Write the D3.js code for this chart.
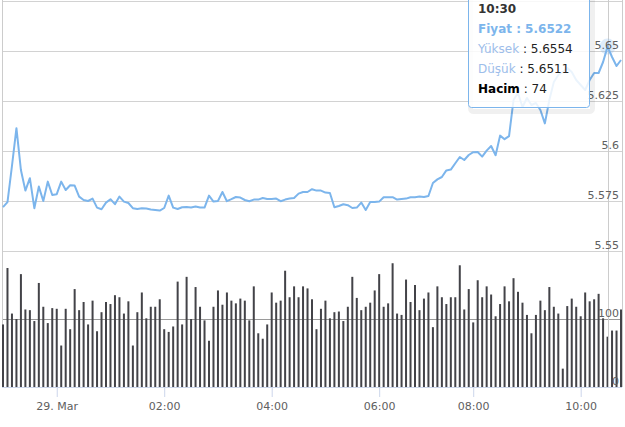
<!DOCTYPE html>
<html>
<head>
<meta charset="utf-8">
<script src="https://cdnjs.cloudflare.com/ajax/libs/d3/7.8.5/d3.min.js"></script>
<style>
  body { margin: 0; background: #fff; }
  svg { display: block; font-family: "DejaVu Sans", Verdana, sans-serif; }
</style>
</head>
<body>
<svg id="chart" width="625" height="427"></svg>
<script>
// ---- data ----
const price = [
  5.5719, 5.5744, 5.5925, 5.6114, 5.5905, 5.5802, 5.5864, 5.5714, 5.5822, 5.5750,
  5.5847, 5.5780, 5.5784, 5.5847, 5.5805, 5.5829, 5.5827, 5.5772, 5.5755, 5.5750,
  5.5762, 5.5717, 5.5709, 5.5742, 5.5759, 5.5734, 5.5772, 5.5747, 5.5740, 5.5714,
  5.5710, 5.5714, 5.5712, 5.5707, 5.5705, 5.5702, 5.5715, 5.5777, 5.5717, 5.5710,
  5.5719, 5.5720, 5.5717, 5.5722, 5.5717, 5.5717, 5.5777, 5.5747, 5.5750, 5.5795,
  5.5749, 5.5759, 5.5770, 5.5767, 5.5755, 5.5749, 5.5757, 5.5757, 5.5765, 5.5760,
  5.5760, 5.5762, 5.5749, 5.5757, 5.5762, 5.5765, 5.5787, 5.5795, 5.5795, 5.5809,
  5.5802, 5.5802, 5.5792, 5.5790, 5.5719, 5.5725, 5.5734, 5.5729, 5.5715, 5.5717,
  5.5742, 5.5705, 5.5745, 5.5745, 5.5747, 5.5769, 5.5769, 5.5769, 5.5757, 5.5760,
  5.5762, 5.5769, 5.5769, 5.5772, 5.5770, 5.5775, 5.5840, 5.5858, 5.5870, 5.5903,
  5.5907, 5.5939, 5.5970, 5.5955, 5.5980, 5.5994, 5.5995, 5.5972, 5.6002, 5.6025,
  5.5979, 5.6077, 5.6059, 5.6074, 5.6255, 5.6290, 5.6220, 5.6265, 5.6230, 5.6240,
  5.6205, 5.6138, 5.6255, 5.6345, 5.6380, 5.6395, 5.6415, 5.6395, 5.6355, 5.6330,
  5.6305, 5.6355, 5.6390, 5.6390, 5.6445, 5.6522, 5.6470, 5.6425, 5.6455
];
const volume = [
  92, 175, 108, 100, 166, 114, 113, 97, 153, 118,
  94, 116, 115, 61, 115, 85, 144, 113, 125, 92,
  127, 82, 110, 125, 122, 135, 132, 108, 126, 61,
  110, 139, 101, 118, 118, 129, 85, 81, 89, 155,
  92, 162, 100, 147, 118, 98, 68, 118, 142, 121,
  139, 127, 123, 130, 127, 98, 148, 79, 71, 92,
  139, 124, 127, 171, 132, 148, 132, 148, 145, 129,
  85, 115, 127, 101, 110, 111, 97, 118, 162, 131,
  113, 118, 124, 142, 166, 118, 123, 182, 108, 106,
  158, 125, 150, 113, 130, 139, 88, 148, 132, 122,
  132, 132, 179, 114, 144, 95, 157, 132, 148, 136,
  104, 122, 148, 126, 160, 140, 124, 106, 79, 106,
  127, 113, 147, 118, 108, 27, 119, 130, 118, 104,
  139, 126, 129, 137, 101, 74, 83, 83, 114
];
const tickIndex = [12, 36, 60, 84, 105, 129];
const tickLabels = ["29. Mar", "02:00", "04:00", "06:00", "08:00", "10:00"];
const priceTicks = [5.55, 5.575, 5.6, 5.625, 5.65];
const priceGrid = [5.55, 5.575, 5.6, 5.625, 5.65, 5.675];
const volumeTicks = [0, 100];
const tipIndex = 135;
const tipTime = "10:30";
const tipHigh = 5.6554;
const tipLow = 5.6511;

// ---- layout ----
const svg = d3.select("#chart");
const left = 2, right = 622;
const x = d3.scaleLinear().domain([0, price.length - 1]).range([3, 621]);
const yP = d3.scaleLinear().domain([5.55, 5.675]).range([251, 1]);
const yV = d3.scaleLinear().domain([0, 200]).range([387, 251]);

// grid
svg.append("g").selectAll("line").data(priceGrid).join("line")
  .attr("x1", left).attr("x2", right)
  .attr("y1", d => Math.round(yP(d)) + 0.5).attr("y2", d => Math.round(yP(d)) + 0.5)
  .attr("stroke", "#d2d2d2").attr("stroke-width", 1);
svg.append("g").selectAll("line").data([100]).join("line")
  .attr("x1", left).attr("x2", right)
  .attr("y1", d => Math.round(yV(d)) + 0.5).attr("y2", d => Math.round(yV(d)) + 0.5)
  .attr("stroke", "#9a9a9a").attr("stroke-width", 1);
// borders
[left, right].forEach(xx => {
  svg.append("line").attr("x1", xx + 0.5).attr("x2", xx + 0.5)
    .attr("y1", 0).attr("y2", yV(0))
    .attr("stroke", "#cccccc").attr("stroke-width", 1);
});

// bars
svg.append("g").selectAll("rect").data(volume).join("rect")
  .attr("x", (d, i) => x(i) - 1)
  .attr("width", 2)
  .attr("y", d => yV(d))
  .attr("height", d => yV(0) - yV(d))
  .attr("fill", "#434348");

// crosshair
svg.append("line")
  .attr("x1", Math.round(x(tipIndex)) + 0.5).attr("x2", Math.round(x(tipIndex)) + 0.5)
  .attr("y1", 0).attr("y2", yV(0))
  .attr("stroke", "#cccccc").attr("stroke-width", 1);

// price line
const line = d3.line().x((d, i) => x(i)).y(d => yP(d));
svg.append("path").datum(price)
  .attr("d", line).attr("fill", "none")
  .attr("stroke", "#7cb5ec").attr("stroke-width", 2)
  .attr("stroke-linejoin", "round");

// halo
svg.append("circle")
  .attr("cx", x(tipIndex)).attr("cy", yP(price[tipIndex]))
  .attr("r", 8).attr("fill", "#7cb5ec").attr("fill-opacity", 0.25);

// x axis
const xAxis = d3.axisBottom(x).tickValues(tickIndex)
  .tickFormat((d, i) => tickLabels[i]).tickSize(10).tickPadding(5);
const gx = svg.append("g").attr("transform", `translate(0,${yV(0)})`).call(xAxis);
gx.select(".domain").attr("stroke", "#ccd6eb").attr("d", `M${left},0.5H${right}`);
gx.selectAll(".tick line").attr("stroke", "#ccd6eb");
gx.selectAll("text").attr("fill", "#606060").attr("font-size", 11)
  .attr("font-family", "DejaVu Sans");

// y axes (labels inside, right aligned)
const gyP = svg.append("g").attr("transform", `translate(619,0)`)
  .call(d3.axisLeft(yP).tickValues(priceTicks).tickSize(0).tickPadding(0).tickFormat(d3.format("")));
gyP.select(".domain").remove();
gyP.selectAll("text").attr("dy", -2.5).attr("fill", "#606060").attr("font-size", 11)
  .attr("font-family", "DejaVu Sans");
const gyV = svg.append("g").attr("transform", `translate(619,0)`)
  .call(d3.axisLeft(yV).tickValues(volumeTicks).tickSize(0).tickPadding(0));
gyV.select(".domain").remove();
gyV.selectAll("text").attr("dy", -2.5).attr("fill", "#606060").attr("font-size", 11)
  .attr("font-family", "DejaVu Sans");

// tooltip
const tip = svg.append("g");
tip.append("rect").attr("x", 469.5).attr("y", -4.5).attr("width", 122).attr("height", 115)
  .attr("rx", 3).attr("fill", "none").attr("stroke", "#000").attr("stroke-opacity", 0.06)
  .attr("stroke-width", 5).attr("transform", "translate(1,1)");
tip.append("rect").attr("x", 468.5).attr("y", -5.5).attr("width", 121).attr("height", 113)
  .attr("rx", 3).attr("fill", "rgba(255,255,255,0.85)").attr("stroke", "#7cb5ec").attr("stroke-width", 1);
const tx = 478;
const fmt = d3.format(".4f");
tip.append("text").attr("x", tx).attr("y", 12.5).attr("font-size", 12)
  .attr("font-weight", "bold").attr("fill", "#333").text(tipTime);
const t1 = tip.append("text").attr("x", tx).attr("y", 33).attr("font-size", 12).attr("font-weight", "bold")
  .attr("fill", "#7cb5ec").text("Fiyat : " + fmt(price[tipIndex]));
const t2 = tip.append("text").attr("x", tx).attr("y", 53).attr("font-size", 12);
t2.append("tspan").attr("fill", "#9dbdea").text("Yüksek");
t2.append("tspan").attr("fill", "#222").text(" : " + fmt(tipHigh));
const t3 = tip.append("text").attr("x", tx).attr("y", 73).attr("font-size", 12);
t3.append("tspan").attr("fill", "#9dbdea").text("Düşük");
t3.append("tspan").attr("fill", "#222").text(" : " + fmt(tipLow));
const t4 = tip.append("text").attr("x", tx).attr("y", 93).attr("font-size", 12);
t4.append("tspan").attr("fill", "#000").attr("font-weight", "bold").text("Hacim");
t4.append("tspan").attr("fill", "#222").text(" : " + volume[tipIndex]);
</script>
</body>
</html>
